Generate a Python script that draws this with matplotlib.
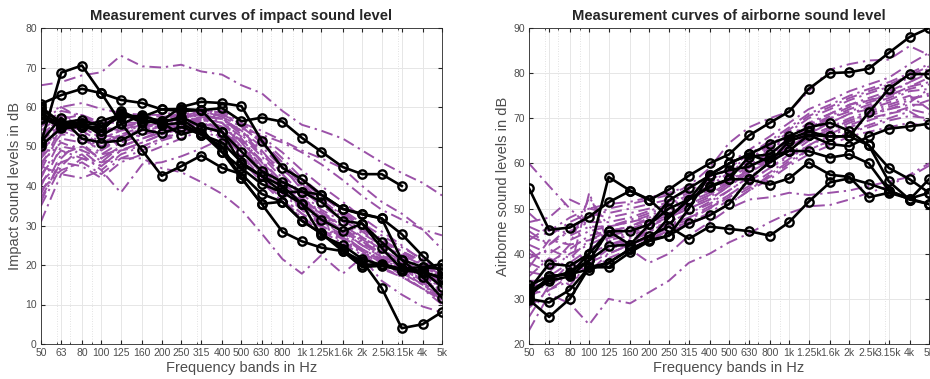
import numpy as np
import matplotlib
matplotlib.use("Agg")
import matplotlib.pyplot as plt
from matplotlib.ticker import FixedLocator, NullFormatter, LogLocator

plt.rcParams['font.family'] = ['Liberation Sans', 'DejaVu Sans']

freqs = [50, 63, 80, 100, 125, 160, 200, 250, 315, 400, 500, 630, 800,
         1000, 1250, 1600, 2000, 2500, 3150, 4000, 5000]
band_labels = ['50', '63', '80', '100', '125', '160', '200', '250', '315', '400',
               '500', '630', '800', '1k', '1.25k', '1.6k', '2k', '2.5k', '3.15k',
               '4k', '5k']

# impact sound level - simulated curves (purple)
impact_sim = [
    [65.5, 66.3, 68, 68.8, 73, 70.3, 70, 70.7, 69, 68.2, 65.5, 63.5, 59, 55.5, 54, 52, 49, 46, 43.3, 40.8, 37.6],
    [58, 60, 61, 59.5, 58.5, 58, 57.5, 58, 57, 56, 54.5, 53, 51, 48.5, 45.5, 41.5, 37.5, 34, 31.5, 29, 27.5],
    [45, 43, 42, 44, 38.3, 45.5, 46, 47.5, 49.5, 52, 50, 45, 40, 36, 33, 28.5, 23, 19, 17, 14, 12],
    [31, 43, 47, 46, 47, 47, 44.5, 43.5, 41, 38, 34, 28, 21.5, 17.8, 22.5, 17.8, 22, 16, 12.5, 9.5, 8],
    [56, 60, 57, 54, 55, 56, 57, 58, 59, 58.5, 55, 51, 46, 40, 36, 32, 29, 26, 23.5, 21, 18],
    [52, 58, 55, 52, 54, 55, 56, 57.5, 58, 57, 53, 48, 43, 38, 34, 31, 27, 24.5, 22, 19.5, 17],
    [48, 56, 54, 50, 53, 54, 55.5, 57, 58.5, 56, 51, 45, 40, 36, 32, 29, 26, 23, 20.5, 18, 15.5],
    [45, 55, 53, 48, 51, 53, 54.5, 56, 57, 55, 50, 44, 39, 35, 31, 28, 25, 22, 19.5, 17, 14.5],
    [42, 52, 51, 46, 50, 52, 54, 55.5, 57, 54, 49, 43, 38, 34, 30, 27, 24, 21.5, 19, 16, 13],
    [40, 50, 49, 45, 49, 51, 53, 55, 56.5, 53, 48, 42, 37, 33, 29.5, 26.5, 23.5, 21, 18.5, 15.5, 12.5],
    [38, 48, 50, 47, 50, 52, 53.5, 55, 55.5, 52, 46.5, 41, 36, 32, 29, 26, 23, 20.5, 18, 15, 12],
    [36, 47, 52, 50, 51, 53, 54, 55, 56, 54, 49, 43, 37, 33, 30, 27, 24, 21.5, 19, 16.5, 13.5],
    [44, 54, 56, 53, 52, 54, 55, 56.5, 57.5, 56, 52, 46, 40, 35.5, 32, 28.5, 25.5, 22.5, 20, 17.5, 15],
    [47, 57, 58, 55, 54, 55.5, 56, 57, 58, 57, 54, 49, 43, 37, 33, 30, 27, 24, 21, 18.5, 16],
    [50, 55, 57, 56, 56, 56, 56.5, 57.5, 58, 57.5, 55, 51, 45, 39, 35, 31.5, 28, 25, 22.5, 20, 17.5],
    [54, 58, 56, 53, 55, 56, 57, 58, 59, 59, 56, 52, 47, 42, 38, 34, 30.5, 27.5, 24.5, 21.5, 18.5],
    [41, 46, 48, 44, 48, 50, 52, 54, 55, 54, 50, 44.5, 39, 34.5, 31, 27.5, 24, 21, 18.5, 15, 11],
    [39, 44, 46, 43, 47, 49, 51.5, 53, 55, 53.5, 49, 44, 39, 34, 30.5, 27, 23.5, 20.5, 17.5, 14, 10],
    [43, 49, 47, 45, 49, 50, 52, 53.5, 55.5, 55, 51, 46, 41, 36, 32, 28.5, 25, 22, 19, 16, 13],
    [46, 51, 49, 47, 50, 52, 53.5, 55, 57, 56, 52.5, 47.5, 42, 37, 33.5, 30, 26.5, 23.5, 20.5, 17.5, 14],
    [35, 45, 50, 48, 49, 51, 53, 54.5, 56, 55, 51.5, 46.5, 41, 36.5, 33, 29.5, 26, 22.5, 19.5, 16.5, 13],
    [49, 54, 52, 49, 52, 53, 55, 56, 57.5, 57, 54, 50, 44.5, 39.5, 36, 33, 29.5, 26, 23, 20, 16.5],
    [53, 57, 54, 51, 53, 55, 56, 57, 58.5, 58, 55.5, 51.5, 46, 41, 37.5, 33.5, 30, 26.5, 23.5, 20.5, 17.5],
    [37, 46, 45, 42, 46, 48, 50, 52, 54, 52, 47.5, 42, 36.5, 32, 28.5, 25.5, 22.5, 19.5, 17, 14, 11],
    [55, 59, 58, 56, 57, 58, 58, 59, 59.5, 58, 56, 54, 51.5, 49, 47, 44.5, 40, 36, 33, 29, 24],
    [51, 56, 55, 52, 54, 56, 57, 58.5, 59.5, 58.5, 55.5, 52.5, 48.5, 44, 40, 36, 32, 28.5, 25, 21, 16],
    [47, 53, 53, 50, 52.5, 54.5, 56, 57.5, 59, 57.5, 53.5, 48.5, 44, 40.5, 36.5, 32.5, 28.5, 25, 22, 19, 15.5],
]

# impact sound level - measured curves (black); the first stops at 3.15k
impact_meas = [
    [60.8, 63, 64.6, 63.5, 61.8, 61, 59.4, 59.5, 59.2, 59.7, 56.4, 57.3, 56.3, 52.2, 48.7, 44.8, 43, 43, 40, None, None],
    [59.5, 56, 56.8, 55, 57.5, 57.5, 56.5, 60, 61.3, 61, 60.2, 51.5, 44.6, 41.7, 37.8, 34.2, 32.8, 31.8, 27.8, 22.3, 18],
    [50.9, 68.7, 70.5, 63.5, 56, 49, 42.6, 45, 47.7, 44.6, 43, 38, 36, 31.2, 28, 24, 20, 20.3, 19, 18.5, 16.5],
    [57.3, 55, 55.5, 54, 59, 56.5, 56, 57.5, 55, 53.7, 48.7, 43.8, 41, 38.6, 36, 31.2, 30.5, 24.3, 19, 19.5, 20.2],
    [51.2, 57.3, 52, 51, 51.5, 54.3, 53.3, 55, 53, 51, 46, 42.5, 40, 35.5, 31.5, 28.5, 30.5, 25.8, 21.3, 17, 11.7],
    [60, 56, 56, 52.8, 55.6, 58, 56, 53, 54.5, 48.6, 44.5, 40.5, 38.4, 35.5, 27.5, 25, 21.5, 20, 18.5, 18.5, 14.5],
    [50.2, 54.6, 55, 56.5, 58, 57, 55.5, 56, 53, 50, 42, 35.5, 36, 31.2, 28, 23.5, 21, 14.2, 4, 5, 8.1],
    [57, 56, 55, 54, 58.5, 56, 56.5, 57, 53.5, 48.6, 42, 35.5, 28.4, 26, 24.4, 23.5, 19.5, 19.8, 18.8, 18, 17],
    [58.5, 55.5, 55, 55, 58, 57.5, 59.4, 59, 59.2, 53.7, 45.5, 42.5, 38.4, 38.6, 37.8, 34.2, 33, 31.8, 21.3, 19.5, 19],
]

# airborne sound level - simulated curves (purple)
airborne_sim = [
    [44, 42, 46, 48, 50, 51, 52, 53, 55, 59, 64.5, 68, 70, 71.5, 76, 80.8, 82, 82.8, 83, 86, 84],
    [60, 55, 50, 46, 43, 41, 38, 40, 44, 47, 50, 52, 52.5, 53.5, 53, 53.5, 54, 55, 56, 57, 59.5],
    [23, 31, 29, 24.3, 30, 29, 31.5, 34, 38, 40, 42.5, 44.5, 47, 49, 50.5, 50.8, 52, 53.5, 55, 57.5, 60],
    [49, 45, 48, 50, 49, 50, 51, 52, 54, 56, 59, 62, 65, 68, 71, 73, 75, 76.5, 78, 80, 82],
    [45, 42, 45, 47, 47, 48, 49.5, 51, 53, 55, 58, 61, 64, 67, 70, 72, 74, 75.5, 77, 79, 81],
    [42, 40, 43, 45, 46, 47, 48.5, 50, 52, 54, 57, 60, 63, 66, 69, 71, 73, 74.5, 76, 78, 80],
    [40, 38, 41, 44, 45, 46, 47.5, 49, 51, 53, 56, 59, 62, 65, 68, 70, 72, 73.5, 75, 77, 78],
    [38, 36, 40, 42, 44, 45, 46.5, 48, 50, 52, 55, 58, 61, 64, 67, 69, 71, 72.5, 74, 76, 76.5],
    [36, 35, 38, 41, 43, 44, 45.5, 47, 49, 51, 54, 57, 60, 63, 66, 68, 70, 71.5, 73, 74.5, 75],
    [34, 34, 37, 40, 42, 43.5, 45, 46.5, 48, 50.5, 53, 56, 59, 62, 65, 67, 69, 70.5, 72, 73, 73],
    [33, 33, 36, 39, 41, 43, 44.5, 46, 47.5, 50, 52.5, 55, 58, 61, 64, 66, 68, 69.5, 71, 72, 71],
    [31, 32, 35, 38, 40, 42, 44, 45.5, 47, 49, 52, 54.5, 57, 60, 63, 65, 67, 68, 69.5, 70.5, 70],
    [28, 32, 34, 36, 39, 41, 43, 45, 46.5, 48.5, 51, 54, 56.5, 59.5, 62, 64, 66, 67, 68, 69, 68],
    [46, 44, 47, 49, 48, 49, 50, 51.5, 53.5, 55.5, 58.5, 61.5, 64.5, 67.5, 70.5, 72.5, 74.5, 76, 77.5, 79.5, 81.5],
    [43, 46, 44, 46, 46, 47.5, 49, 50.5, 52.5, 54.5, 57.5, 60.5, 63.5, 66, 68.5, 71, 73, 74, 75, 77, 79],
    [39, 41, 39, 43, 45, 46, 48, 49.5, 51.5, 53.5, 56.5, 59.5, 62.5, 65.5, 68, 70.5, 72.5, 74, 75.5, 78, 80.5],
    [37, 43, 42, 43, 44.5, 45.5, 47, 48.5, 50.5, 52.5, 55.5, 58.5, 61.5, 64.5, 67.5, 70, 71.5, 73, 74.5, 76.5, 77.5],
    [35, 39, 37, 41, 43.5, 44.5, 46, 48, 50, 52, 55, 58, 60.5, 63.5, 66.5, 69, 71, 72, 73.5, 75, 72],
    [41, 37, 42, 52.5, 46, 47, 48, 49, 51, 53, 56, 58.5, 61, 64, 66, 68, 69.5, 71, 72.5, 74, 75.5],
    [47, 48, 52, 50, 51, 51.5, 52.5, 53.5, 55, 57, 60, 63, 66, 69, 72, 74, 76, 77.5, 79, 82, 84.5],
    [32, 36, 33, 38, 41, 42.5, 44, 46, 48, 50, 53, 56, 59, 61.5, 64, 66.5, 68.5, 70, 71, 72.5, 74],
    [30, 34, 36, 53.5, 42, 43, 45, 47, 49, 51.5, 54, 57, 60, 63, 65.5, 67.5, 69.5, 71, 72, 73.5, 76.5],
    [26, 33, 38, 36, 40, 42, 43.5, 45, 46.5, 48.5, 51, 54, 57.5, 60.5, 63, 65, 67, 68.5, 70, 71.5, 69],
]

# airborne sound level - measured curves (black)
airborne_meas = [
    [54.5, 45.3, 45.8, 48.2, 51.4, 53.9, 51.9, 54.2, 57.3, 60, 62, 66.2, 69, 71.5, 76.5, 80, 80.2, 81, 84.5, 88, 90],
    [30.5, 35, 35.5, 40, 57, 54, 52, 48, 52, 57.5, 60, 62, 64.3, 66, 68, 69, 67.2, 64, 59, 56.5, 53.5],
    [31.5, 34.5, 36, 38.5, 45, 42, 44, 46, 43.3, 46, 45.5, 45, 44, 47, 51.5, 55.8, 56.7, 55.5, 54, 52.2, 51],
    [30, 29.2, 32, 37, 38, 41, 43, 44, 46.7, 48.5, 51, 56.5, 60.3, 65, 66.3, 66, 66, 71.3, 76.5, 79.8, 79.8],
    [31, 34, 35, 38.5, 41.7, 42, 46.5, 51.8, 54.5, 57.3, 58.5, 59.3, 61.5, 62.8, 66.3, 64.3, 63.8, 66, 67.7, 68.2, 68.8],
    [32, 37.8, 37.3, 40, 45, 45, 46.5, 50, 52, 54.7, 56.5, 61.5, 62, 65.5, 67, 66, 66, 64, 56, 52, 56.5],
    [29.8, 26, 30, 37, 37, 40.3, 42.8, 44, 50, 57.5, 60, 62, 60.3, 62.8, 62.7, 61.3, 62, 60, 54, 52, 51],
    [33, 35, 35.5, 36.5, 38, 41, 43, 48, 52, 55, 56.5, 56.5, 55.3, 56.7, 60.2, 57.5, 57, 52.5, 53.5, 52.2, 53.5],
]

purple = '#9b51a8'
grey = '#4d4d4d'


def draw_panel(ax, sim, meas, title, ylabel, ylim, yticks):
    for row in sim:
        ax.plot(freqs, row, color=purple, lw=1.4, ls=(0, (6, 2.5, 1.2, 2.5)), zorder=2)
    for row in meas:
        vals = np.array([np.nan if v is None else v for v in row], dtype=float)
        ax.plot(freqs, vals, color='black', lw=1.9, marker='o', ms=6,
                mfc='none', mec='black', mew=1.7, zorder=3)
    ax.set_xscale('log')
    ax.set_xlim(50, 5000)
    ax.set_ylim(*ylim)
    ax.xaxis.set_major_locator(FixedLocator(freqs))
    ax.set_xticklabels(band_labels)
    ax.xaxis.set_minor_locator(LogLocator(base=10, subs=np.arange(2, 10)))
    ax.xaxis.set_minor_formatter(NullFormatter())
    ax.set_yticks(yticks)
    ax.grid(True, which='major', color='#e6e6e6', lw=0.7, zorder=0)
    ax.grid(True, which='minor', axis='x', color='#d9d9d9', lw=0.6, ls=(0, (1, 2)), zorder=0)
    ax.set_axisbelow(True)
    ax.tick_params(which='both', direction='in', top=True, right=True,
                   labelsize=7.5, colors='#262626', labelcolor=grey, pad=3)
    ax.tick_params(which='major', length=3)
    ax.tick_params(which='minor', length=1.5)
    for s in ax.spines.values():
        s.set_color('#262626')
        s.set_linewidth(0.6)
    ax.set_title(title, fontsize=10.6, fontweight='bold', color='#262626', pad=6)
    ax.set_xlabel('Frequency bands in Hz', fontsize=10.5, color=grey, labelpad=2)
    ax.set_ylabel(ylabel, fontsize=10.5, color=grey, labelpad=2)


fig = plt.figure(figsize=(9.3, 3.79), dpi=100)
ax1 = fig.add_axes([41 / 930, 35 / 379, 401 / 930, 316 / 379])
ax2 = fig.add_axes([529 / 930, 35 / 379, 400 / 930, 316 / 379])

draw_panel(ax1, impact_sim, impact_meas, 'Measurement curves of impact sound level',
           'Impact sound levels in dB', (0, 80), range(0, 81, 10))
draw_panel(ax2, airborne_sim, airborne_meas, 'Measurement curves of airborne sound level',
           'Airborne sound levels in dB', (20, 90), range(20, 91, 10))

fig.savefig('out.png', dpi=100)
